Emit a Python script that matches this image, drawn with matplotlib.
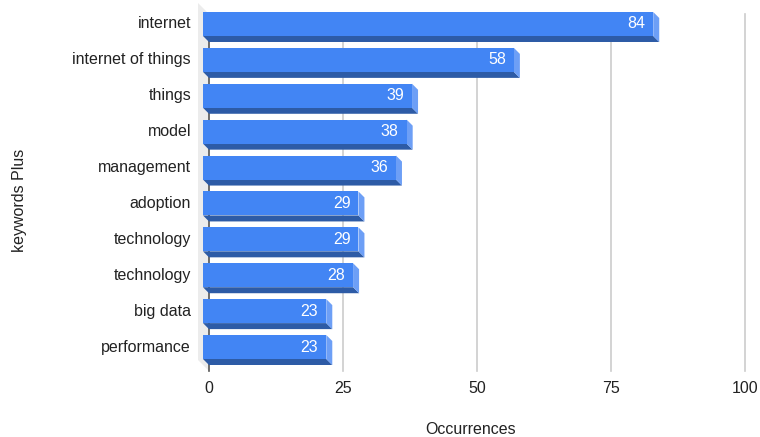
import matplotlib
matplotlib.use("Agg")
import matplotlib.pyplot as plt
import matplotlib.transforms as mtransforms
from matplotlib.patches import Polygon

plt.rcParams['font.family'] = ['Liberation Sans', 'DejaVu Sans']

keywords = ['internet', 'internet of things', 'things', 'model', 'management',
            'adoption', 'technology', 'technology', 'big data', 'performance']
occurrences = [84, 58, 39, 38, 36, 29, 29, 28, 23, 23]
xticks = [0, 25, 50, 75, 100]

FRONT = '#4285f4'
BOTTOM = '#2d5ba6'
SIDE = '#6d9ff6'
GRID = '#cccccc'
WALL = '#ececec'

DPI = 100
fig = plt.figure(figsize=(7.6, 4.37), dpi=DPI)
W, H = 760, 437
# back plane of the 3d box, in pixels
left, right, top, bottom = 209, 745, 14, 371
ax = fig.add_axes([left / W, (H - bottom) / H, (right - left) / W, (bottom - top) / H])
ax.set_xlim(0, 100)
row = 35.9
ax.set_ylim(9 + 18 / row, -16 / row)
for s in ax.spines.values():
    s.set_visible(False)
ax.set_yticks([])
ax.set_xticks(xticks)
ax.tick_params(axis='x', length=0, pad=7, labelsize=11.5, labelcolor='#222222')


def shifted(dx, dy):
    # pixel offset on top of data coords (dy up is positive)
    return ax.transData + mtransforms.ScaledTranslation(dx / DPI, dy / DPI, fig.dpi_scale_trans)


ylo, yhi = ax.get_ylim()
inv = ax.transData.inverted()

# left wall
wall_depth = 11
wall_back = [(0, ylo), (0, yhi)]
disp = ax.transData.transform(wall_back)
front_pts = inv.transform(disp + [-wall_depth, wall_depth])
ax.add_patch(Polygon([wall_back[0], wall_back[1], front_pts[1], front_pts[0]],
                     closed=True, facecolor=WALL, edgecolor='none',
                     zorder=1, clip_on=False))

# gridlines on the back plane
for t in xticks[1:]:
    ax.plot([t, t], [ylo, yhi], color=GRID, lw=1.2, zorder=1.5, clip_on=False)
ax.plot([0, 0], [ylo, yhi], color='#555555', lw=1.2, zorder=1.6, clip_on=False)

# 3d bars
depth = 6
bh = 24 / row
for i, v in enumerate(occurrences):
    y0, y1 = i - bh / 2, i + bh / 2
    back = ax.transData.transform([(0, y1), (v, y1), (v, y0)])
    fr = back + [-depth, depth]
    b = inv.transform(back)
    f = inv.transform(fr)
    ax.add_patch(Polygon([f[0], f[1], b[1], b[0]], closed=True,
                         facecolor=BOTTOM, edgecolor='none', zorder=3, clip_on=False))
    ax.add_patch(Polygon([f[1], f[2], b[2], b[1]], closed=True,
                         facecolor=SIDE, edgecolor='none', zorder=3, clip_on=False))
    ax.add_patch(Polygon([(0, y0), (v, y0), (v, y1), (0, y1)], closed=True,
                         facecolor=FRONT, edgecolor='none', zorder=4, clip_on=False,
                         transform=shifted(-depth, depth)))
    ax.text(v, i, str(v), transform=shifted(-depth - 8, depth), ha='right',
            va='center', color='white', fontsize=11.5, zorder=5)
    ax.text(0, i, keywords[i], transform=shifted(-depth - 12, depth), ha='right',
            va='center', color='#222222', fontsize=11.5, zorder=5)

fig.text(471 / W, 1 - 430 / H, 'Occurrences', ha='center', va='center',
         fontsize=11.5, color='#222222')
fig.text(20 / W, 1 - 200 / H, 'keywords Plus', ha='center', va='center',
         rotation=90, fontsize=11.5, color='#222222')

fig.savefig('out.png', dpi=DPI, facecolor='white')
